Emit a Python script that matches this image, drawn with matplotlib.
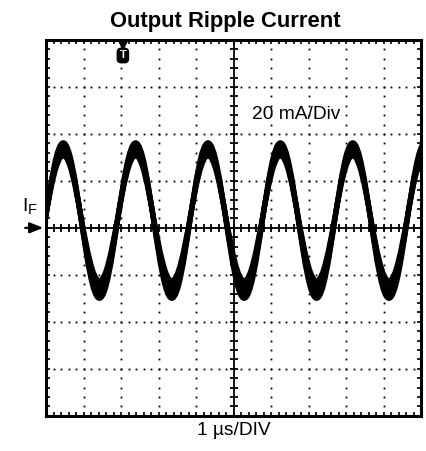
import matplotlib
matplotlib.use('Agg')
import matplotlib.pyplot as plt
import numpy as np
from matplotlib.path import Path
from matplotlib.patches import PathPatch

plt.rcParams['font.family'] = ['Liberation Sans', 'DejaVu Sans']

# scope trace (time in us, current in mA, 20 mA/div, 1 us/div)
cross_t = [-0.02, 0.94, 1.91, 2.87, 3.84, 4.80, 5.77, 6.73, 7.70, 8.66, 9.63]
peak_t = [0.46, 2.39, 4.32, 6.25, 8.18, 10.11]
trough_t = [1.425, 3.355, 5.285, 7.215, 9.145]
# persistence band: peak / trough levels of the overlapping sweeps
peak_mA = [36.2, 34.4, 32.6, 30.8]
trough_mA = [-30.0, -27.5, -25.0, -22.6]

time_div = np.arange(0, 11)        # 10 horizontal divisions
amp_div = np.arange(-80, 81, 20)   # 8 vertical divisions

W, H, DPI = 426, 451, 100
fig = plt.figure(figsize=(W / DPI, H / DPI), dpi=DPI)
ax = fig.add_axes([46 / W, 35.3 / H, 375 / W, 375.7 / H])
ax.set_xlim(0, 10)
ax.set_ylim(-80, 80)

# border ticks
ax.set_xticks(time_div)
ax.set_yticks(amp_div)
ax.set_xticks(np.arange(0, 10.01, 0.2), minor=True)
ax.set_yticks(np.arange(-80, 80.1, 4), minor=True)
ax.tick_params(which='both', direction='in', top=True, right=True,
               labelbottom=False, labelleft=False, length=3, width=1.2)
for s in ax.spines.values():
    s.set_linewidth(2.2)

# dotted graticule
sub_x = np.arange(0, 10.01, 0.2)
sub_y = np.arange(-80, 80.1, 4)
for xv in time_div[1:-1]:
    if xv == 5:
        continue
    ax.plot(np.full_like(sub_y, xv), sub_y, 's', color='black', ms=1.3, mew=0)
for yv in amp_div[1:-1]:
    if yv == 0:
        continue
    ax.plot(sub_x, np.full_like(sub_x, yv), 's', color='black', ms=1.3, mew=0)

# centre cross-hair with tick marks
ax.axhline(0, color='black', lw=1.3)
ax.axvline(5, color='black', lw=1.3)
ax.plot(sub_x, np.zeros_like(sub_x), '|', color='black', ms=6, mew=1.3)
ax.plot(np.full_like(sub_y, 5), sub_y, '_', color='black', ms=6, mew=1.3)

# trace: cubic bezier quarter waves through the read key points
keys_t = []
kind = []
for i in range(len(cross_t)):
    keys_t.append(cross_t[i]); kind.append('c')
    if i % 2 == 0:
        keys_t.append(peak_t[i // 2]); kind.append('p')
    else:
        keys_t.append(trough_t[i // 2]); kind.append('t')

for pk, tr in zip(peak_mA, trough_mA):
    mid = (pk + tr) / 2
    level = {'c': mid, 'p': pk, 't': tr}
    verts = [(keys_t[0], level[kind[0]])]
    codes = [Path.MOVETO]
    for j in range(1, len(keys_t)):
        t0, t1 = keys_t[j - 1], keys_t[j]
        v0, v1 = level[kind[j - 1]], level[kind[j]]
        dt = t1 - t0
        if kind[j - 1] == 'c':
            c1 = (t0 + 0.326 * dt, v0 + 0.512 * (v1 - v0))
            c2 = (t0 + 0.638 * dt, v1)
        else:
            c1 = (t0 + 0.362 * dt, v0)
            c2 = (t0 + 0.674 * dt, v1 + 0.512 * (v0 - v1))
        verts += [c1, c2, (t1, v1)]
        codes += [Path.CURVE4] * 3
    ax.add_patch(PathPatch(Path(verts, codes), fill=False, lw=3.8,
                           edgecolor='black', capstyle='round', joinstyle='round'))

# trigger marker
ax.plot([2.05], [77.4], 'v', color='black', ms=7, mew=0, clip_on=False, zorder=7)
ax.text(2.05, 73.4, 'T', color='white', fontsize=8, fontweight='bold',
        ha='center', va='center', zorder=6,
        bbox=dict(boxstyle='round,pad=0.2,rounding_size=0.35', fc='black', ec='black'))

ax.text(5.49, 46.2, '20 mA/Div', fontsize=13.8, ha='left', va='baseline')

# reference arrow and label
ax.annotate('', xy=(0, 0), xycoords='data', xytext=(-17, 0), textcoords='offset points',
            arrowprops=dict(arrowstyle='-|>,head_length=0.8,head_width=0.32',
                            color='black', lw=1.6), annotation_clip=False)
fig.text(22 / W, (H - 211) / H, 'I', fontsize=14, ha='left', va='baseline')
fig.text(28 / W, (H - 213.5) / H, 'F', fontsize=10.5, ha='left', va='baseline')

fig.text(225 / W, (H - 26.5) / H, 'Output Ripple Current', fontsize=15.8,
         fontweight='bold', ha='center', va='baseline')
fig.text(233.5 / W, (H - 435) / H, '1 \u00b5s/DIV', fontsize=13.8,
         ha='center', va='baseline')

fig.savefig('out.png', dpi=DPI)
plt.close(fig)
